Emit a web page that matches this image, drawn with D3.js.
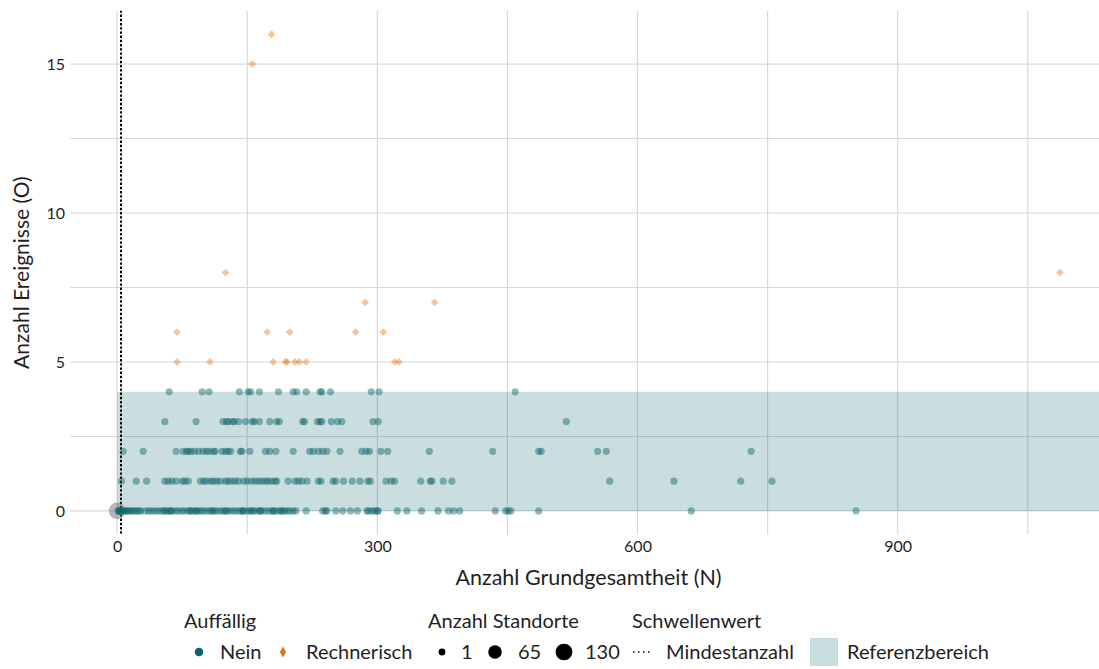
<!DOCTYPE html>
<html>
<head>
<meta charset="utf-8">
<script src="https://cdn.jsdelivr.net/npm/d3@7"></script>
<style>
  html, body { margin: 0; padding: 0; background: #fff; }
  svg { display: block; font-family: Lato, "Open Sans", sans-serif; }
</style>
</head>
<body>
<svg id="chart" width="1099" height="669"></svg>
<script>
// ---------------- data ----------------
// "Nein" (not conspicuous) sites: N values per observed count O
const neinO0 = [1,2,3,4,6,8,10,12,13,16,18,20,23,25,27,32,36,39,43,46,50,53,55,57,60,62,63,67,70,74,77,81,84,85,88,91,92,95,98,101,105,108,110,112,115,119,122,125,126,129,133,136,140,143,145,146,150,153,155,157,160,164,165,167,171,175,179,180,182,186,189,190,193,196,199,203,206,218,237,240,242,252,260,269,277,288,290,294,297,300,301,323,334,351,370,382,388,395,436,448,451,454,486,662,852];
const neinO1 = [5,22,34,55,59,63,68,75,78,82,96,100,103,108,111,115,119,125,128,132,136,140,146,150,155,159,163,167,171,174,178,182,184,197,205,209,213,219,232,235,249,252,261,271,280,289,292,310,316,320,350,361,363,376,386,568,642,719,755];
const neinO2 = [7,30,68,76,80,82,85,89,94,99,103,106,111,113,121,125,128,131,142,144,153,171,176,183,203,222,226,232,237,242,257,282,287,291,304,312,360,433,486,489,554,564,731];
const neinO3 = [55,91,122,126,128,133,135,140,148,156,158,164,176,184,187,214,216,231,234,236,247,254,259,295,301,518];
const neinO4 = [60,98,106,141,151,154,164,186,203,207,218,234,236,246,293,302,459];
// "Rechnerisch" (computationally conspicuous) sites
const rechN = [69,69,107,125,156,178,173,199,275,307,286,366,180,194,196,205,210,218,320,325,1087];
const rechO = [6,5,5,8,15,16,6,6,6,6,7,7,5,5,5,5,5,5,5,5,8];
// sites aggregated at N = 0
const zeroN = [0];
const zeroO = [0];
const zeroCount = [110];
// thresholds / reference range
const mindestanzahl = 5;
const refRange = [0, 4];
// axes
const xTicks = [0, 300, 600, 900];
const xMinor = [150, 450, 750, 1050];
const yTicks = [0, 5, 10, 15];
const yMinor = [2.5, 7.5, 12.5];
const sizeLegend = [1, 65, 130];

// ---------------- chart ----------------
const svg = d3.select("#chart");
const panel = {left: 70, right: 1107, top: 10.4, bottom: 534.8};
const TEAL = "#0b636a", ORANGE = "#e0761a", GRID = "#d8d8d8";

const x = d3.scaleLinear().domain([-54.35, 1141.35]).range([panel.left, panel.right]);
const y = d3.scaleLinear().domain([-0.8, 16.8]).range([panel.bottom, panel.top]);
const r = d3.scaleSqrt().domain([1, 130]).range([3.6, 8.8]);

svg.append("defs").append("clipPath").attr("id", "clip")
  .append("rect").attr("x", panel.left).attr("y", panel.top)
  .attr("width", panel.right - panel.left).attr("height", panel.bottom - panel.top);

const g = svg.append("g").attr("clip-path", "url(#clip)");

// grid
g.selectAll(".vg").data(xTicks.concat(xMinor)).join("line")
  .attr("x1", d => x(d)).attr("x2", d => x(d))
  .attr("y1", panel.top).attr("y2", panel.bottom)
  .attr("stroke", GRID).attr("stroke-width", 1.2);
g.selectAll(".hg").data(yTicks.concat(yMinor)).join("line")
  .attr("x1", panel.left).attr("x2", panel.right)
  .attr("y1", d => y(d)).attr("y2", d => y(d))
  .attr("stroke", GRID).attr("stroke-width", 1.2);

// reference band
g.append("rect")
  .attr("x", x(0)).attr("y", y(refRange[1]))
  .attr("width", panel.right - x(0)).attr("height", y(refRange[0]) - y(refRange[1]))
  .attr("fill", TEAL).attr("fill-opacity", 0.21);

// threshold line
g.append("line")
  .attr("x1", Math.round(x(mindestanzahl))).attr("x2", Math.round(x(mindestanzahl)))
  .attr("y1", panel.top).attr("y2", panel.bottom)
  .attr("stroke", "#000").attr("stroke-width", 2).attr("stroke-dasharray", "2.4,1.8");

// zero aggregated
g.selectAll(".zero").data(zeroN.map((n, i) => ({n, o: zeroO[i], c: zeroCount[i]}))).join("circle")
  .attr("cx", d => x(d.n)).attr("cy", d => y(d.o)).attr("r", d => r(d.c))
  .attr("fill", "#7a7a7a").attr("fill-opacity", 0.55);

// nein points
const nein = [];
[neinO0, neinO1, neinO2, neinO3, neinO4].forEach((arr, o) => arr.forEach(n => nein.push({n, o})));
g.selectAll(".nein").data(nein).join("circle")
  .attr("cx", d => x(d.n)).attr("cy", d => y(d.o)).attr("r", r(1))
  .attr("fill", TEAL).attr("fill-opacity", 0.45);

// rechnerisch diamonds
const rech = rechN.map((n, i) => ({n, o: rechO[i]}));
const diamond = d3.symbol(d3.symbolSquare, 30)();
g.selectAll(".rech").data(rech).join("path")
  .attr("d", diamond)
  .attr("transform", d => `translate(${x(d.n)},${y(d.o)}) rotate(45)`)
  .attr("fill", ORANGE).attr("fill-opacity", 0.42);

// axes
const TXT = "#1f1f1f";
const xa = svg.append("g").attr("transform", `translate(0,${panel.bottom})`)
  .call(d3.axisBottom(x).tickValues(xTicks).tickSize(0).tickPadding(6).tickFormat(d3.format("d")));
xa.select(".domain").remove();
xa.selectAll("text").attr("font-size", 16).attr("fill", TXT).attr("font-family", "Lato");

const ya = svg.append("g").attr("transform", `translate(${panel.left},0)`)
  .call(d3.axisLeft(y).tickValues(yTicks).tickSize(0).tickPadding(5).tickFormat(d3.format("d")));
ya.select(".domain").remove();
ya.selectAll("text").attr("font-size", 16).attr("fill", TXT).attr("font-family", "Lato");

svg.append("text").attr("x", (panel.left + panel.right) / 2).attr("y", 585)
  .attr("text-anchor", "middle").attr("font-size", 21.5).attr("fill", TXT)
  .text("Anzahl Grundgesamtheit (N)");
svg.append("text")
  .attr("transform", `translate(29,${(panel.top + panel.bottom) / 2}) rotate(-90)`)
  .attr("text-anchor", "middle").attr("font-size", 21).attr("fill", TXT)
  .text("Anzahl Ereignisse (O)");

// legend
const LF = 20;
const ly1 = 628, ly2 = 659, lc = 652;
const leg = svg.append("g").attr("font-size", LF).attr("fill", TXT);
leg.append("text").attr("x", 184).attr("y", ly1).text("Auffällig");
leg.append("circle").attr("cx", 199).attr("cy", lc).attr("r", 4.3).attr("fill", TEAL);
leg.append("text").attr("x", 220).attr("y", ly2).text("Nein");
leg.append("path").attr("d", d3.symbol(d3.symbolDiamond, 34)())
  .attr("transform", `translate(283,${lc})`).attr("fill", ORANGE);
leg.append("text").attr("x", 306).attr("y", ly2).text("Rechnerisch");

leg.append("text").attr("x", 428).attr("y", ly1).text("Anzahl Standorte");
const sizePos = [442, 495, 564];
const sizeLab = [461, 518, 585];
sizeLegend.forEach((s, i) => {
  leg.append("circle").attr("cx", sizePos[i]).attr("cy", lc).attr("r", r(s) * 0.95).attr("fill", "#000");
  leg.append("text").attr("x", sizeLab[i]).attr("y", ly2).text(s);
});

leg.append("text").attr("x", 632).attr("y", ly1).text("Schwellenwert");
leg.append("line").attr("x1", 633).attr("x2", 650).attr("y1", lc).attr("y2", lc)
  .attr("stroke", "#000").attr("stroke-width", 1.3).attr("stroke-dasharray", "1.5,3.5");
leg.append("text").attr("x", 666).attr("y", ly2).text("Mindestanzahl");

leg.append("rect").attr("x", 810).attr("y", 638).attr("width", 28).attr("height", 28)
  .attr("fill", TEAL).attr("fill-opacity", 0.21);
leg.append("text").attr("x", 847).attr("y", ly2).text("Referenzbereich");
</script>
</body>
</html>
